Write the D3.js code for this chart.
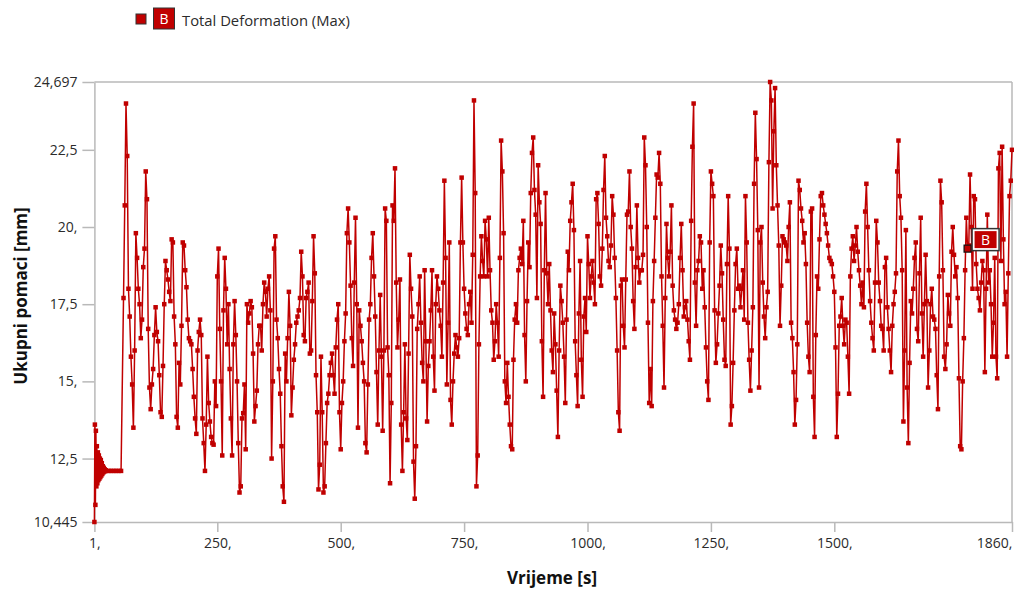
<!DOCTYPE html>
<html>
<head>
<meta charset="utf-8">
<script src="https://cdn.jsdelivr.net/npm/d3@7"></script>
<style>
  html, body { margin: 0; padding: 0; background: #ffffff; }
  svg { display: block; }
  text { font-family: "Open Sans", "Noto Sans", sans-serif; }
</style>
</head>
<body>
<svg id="chart" width="1014" height="590"></svg>
<script>
// ---------- data ----------
const seriesName = "Total Deformation (Max)";
const seriesTag = "B";
const xTickValues = [1, 250, 500, 750, 1000, 1250, 1500, 1860];
const xTickLabels = ["1,", "250,", "500,", "750,", "1000,", "1250,", "1500,", "1860,"];
const yTickValues = [10.445, 12.5, 15, 17.5, 20, 22.5, 24.697];
const yTickLabels = ["10,445", "12,5", "15,", "17,5", "20,", "22,5", "24,697"];

// start-up phase (time [s], deformation [mm])
const startTimes  = [1,2,3,4,5,6,7,8,9,10,11,12,13,14,15,16,17,18,19,20,21,22,23,24,25,30,35,40,45,50,55];
const startValues = [10.445,13.6,11.0,13.4,11.6,12.9,11.7,12.7,11.8,12.6,11.85,12.5,11.9,12.45,11.95,12.35,12.0,12.25,12.05,12.2,12.08,12.15,12.1,12.12,12.1,12.1,12.1,12.1,12.1,12.1,12.1];

// main phase: one sample every 2.5 s from t = 60 s to t = 1860 s
const mainStart = 60, mainStep = 2.5;
const mainValues = [
17.7,20.7,24.0,22.3,18.0,17.1,15.8,14.9,13.5,16.0,19.8,19.0,18.0,17.5,16.4,17.0,18.7,19.3,21.8,20.9,
16.7,14.8,14.1,14.9,15.4,16.5,17.4,16.6,16.3,15.2,14.0,13.85,15.5,17.5,18.9,18.6,18.3,17.9,17.6,19.6,
19.5,17.1,16.2,13.85,13.5,15.6,14.9,16.8,19.5,19.4,18.6,18.05,17.0,16.4,16.3,16.2,15.4,14.5,13.8,13.3,
16.0,16.6,17.0,16.5,13.8,13.0,12.1,13.6,15.8,14.3,13.7,13.2,13.0,12.95,15.0,14.2,18.4,19.3,16.7,15.0,
12.6,17.3,19.0,18.0,16.2,17.5,15.4,13.8,12.6,16.2,17.6,16.5,15.0,13.0,11.4,11.6,13.8,13.97,14.9,12.8,
17.5,16.9,17.2,17.6,17.4,15.9,13.7,14.2,14.7,16.2,16.8,16.8,16.0,17.5,18.2,17.9,17.1,18.0,18.4,17.3,
12.5,15.0,19.3,19.7,17.0,16.4,15.4,14.6,12.9,11.6,11.1,15.9,15.0,16.4,17.9,16.8,13.9,14.8,15.7,16.2,
16.9,17.1,17.3,17.7,19.2,18.4,16.5,16.3,17.7,17.9,18.2,15.9,16.0,17.6,19.7,18.5,15.2,14.0,11.5,12.3,
15.8,14.0,11.4,11.6,13.0,14.3,14.6,15.2,15.6,15.9,15.2,14.6,16.1,17.0,17.5,14.0,12.8,14.3,15.0,16.3,
17.2,19.8,20.6,19.5,18.1,16.4,15.5,18.2,20.3,17.5,13.5,17.3,16.8,16.3,15.6,15.0,13.0,12.7,14.9,17.0,
17.5,19.0,19.8,18.4,17.1,15.3,13.6,16.0,17.8,15.8,13.4,16.0,20.6,20.2,16.1,15.2,11.7,14.3,20.7,20.2,
21.9,18.2,16.1,17.0,18.3,13.6,12.1,14.0,16.2,13.8,13.1,15.9,19.1,18.0,17.1,12.4,11.2,12.9,16.7,17.5,
18.4,16.9,15.6,15.0,18.6,16.3,13.7,15.5,16.3,17.3,18.6,15.8,14.7,17.5,18.4,18.0,17.3,16.8,15.8,18.2,
21.5,19.0,14.9,16.9,19.5,14.4,13.6,15.0,15.9,16.5,16.1,15.8,16.4,19.5,21.6,19.5,18.0,17.2,16.7,16.5,
17.5,17.9,16.9,19.1,24.1,21.1,11.6,12.6,16.2,18.4,19.7,18.9,18.4,20.2,19.6,18.4,20.3,18.6,17.3,16.9,
15.7,16.3,17.5,16.9,15.8,19.0,22.8,21.8,19.8,15.0,14.3,15.6,14.5,13.6,12.9,12.8,15.7,17.0,17.5,16.9,
18.6,19.0,19.3,18.8,20.2,16.5,15.0,17.6,19.5,18.7,21.1,22.4,22.9,21.2,20.4,17.7,22.0,20.8,20.1,16.3,
14.5,18.6,21.1,18.5,17.5,18.8,17.3,16.0,15.3,17.2,16.2,14.7,13.2,16.0,18.1,17.6,16.9,15.8,14.3,17.0,
19.2,18.6,20.2,20.8,21.4,19.9,16.3,15.2,14.2,17.2,18.9,15.7,14.5,17.1,17.7,16.6,19.7,18.8,17.7,18.4,
18.9,18.2,17.5,20.9,21.1,20.1,18.4,18.1,19.3,21.2,22.3,20.3,19.7,18.9,18.7,19.4,21.0,20.4,19.0,17.7,
16.0,14.0,13.4,18.1,18.3,16.8,16.1,18.3,20.4,20.5,21.8,20.0,19.3,17.6,16.7,18.7,20.7,19.0,18.2,18.6,
18.6,19.1,22.9,22.0,20.0,16.9,14.3,15.4,14.2,17.6,18.9,20.3,21.7,21.6,22.4,21.4,18.4,16.8,14.8,17.7,
20.1,19.0,18.4,19.2,20.7,18.1,17.3,17.0,16.7,16.9,17.5,19.0,20.1,18.6,17.1,17.4,17.6,17.0,16.3,15.7,
20.2,22.6,24.0,18.2,16.8,18.6,18.9,19.7,19.5,18.0,18.6,17.4,16.1,15.0,14.4,19.5,21.8,21.4,21.0,17.3,
15.6,16.2,17.2,18.1,19.4,18.5,17.0,15.7,15.5,18.8,21.0,19.3,13.6,14.2,15.6,17.3,18.8,19.3,18.0,18.1,
17.4,18.0,18.6,17.0,21.0,19.5,16.9,15.7,14.7,16.0,17.4,21.4,23.7,22.2,19.9,14.8,19.5,20.0,18.2,17.1,
16.4,17.4,17.9,22.1,24.697,24.1,20.6,23.1,24.5,22.0,20.7,19.4,16.8,18.1,19.7,19.6,19.5,19.4,18.9,20.0,
20.8,16.9,16.4,15.3,13.6,14.4,16.2,21.5,21.2,20.6,20.2,19.5,19.8,18.8,16.9,15.8,15.3,20.5,20.6,14.5,
13.2,16.5,18.4,18.0,19.6,21.0,21.1,20.7,20.4,20.1,19.8,19.4,19.0,18.9,18.8,18.4,17.9,16.1,13.2,14.6,
16.8,17.1,17.7,16.8,16.2,17.0,16.9,15.8,14.6,18.4,19.3,19.7,18.9,19.4,20.0,19.2,18.6,18.1,17.5,18.2,
17.4,20.5,21.4,20.0,18.6,17.6,16.9,16.4,16.0,18.2,20.2,19.5,18.2,17.6,16.8,16.7,16.0,18.7,19.0,17.4,
16.7,16.0,15.3,16.8,17.5,17.9,18.5,21.8,22.8,21.0,20.3,18.6,13.7,16.0,19.9,14.8,13.0,15.6,17.6,17.2,
18.0,19.0,19.5,16.7,16.3,18.5,20.3,17.2,15.8,17.5,19.1,17.6,14.8,16.0,17.5,18.0,17.1,17.0,16.7,15.2,
14.1,18.4,21.5,20.8,18.6,15.8,15.4,16.2,17.8,17.2,16.8,19.2,20.0,19.1,18.4,18.7,17.7,15.1,12.9,12.8,
15.0,16.4,18.6,20.3,19.3,19.4,21.7,20.0,18.0,21.0,20.9,18.8,18.0,17.7,17.3,18.2,18.9,18.6,15.3,18.0,
20.4,18.2,18.6,17.5,15.8,16.9,19.0,15.8,15.1,21.9,22.4,18.9,22.6,19.6,17.5,17.9,15.8,18.5,21.0,21.5,
22.5
];
const annotationIndex = 684; // main-phase sample carrying the "B" probe label

// ---------- build points ----------
const points = startTimes.map((t, i) => ({ t, v: startValues[i] }))
  .concat(mainValues.map((v, i) => ({ t: mainStart + i * mainStep, v })));

// ---------- layout ----------
const plot = { left: 94.4, right: 1012, top: 82, bottom: 522 };
const red = "#c00000";
const axisCol = "#b9b9b9";
const textCol = "#2b2b2b";

const svg = d3.select("#chart");

const x = d3.scaleLinear().domain([1, 1860]).range([plot.left, plot.right]);
const y = d3.scaleLinear().domain([10.445, 24.697]).range([plot.bottom, plot.top]);

// frame
const frame = svg.append("g");
frame.append("line").attr("x1", plot.left).attr("x2", plot.right).attr("y1", plot.top).attr("y2", plot.top)
  .attr("stroke", axisCol).attr("stroke-width", 1.5);
frame.append("line").attr("x1", plot.right).attr("x2", plot.right).attr("y1", plot.top).attr("y2", plot.bottom)
  .attr("stroke", axisCol).attr("stroke-width", 1.5);

// axes
const xAxis = d3.axisBottom(x).tickValues(xTickValues)
  .tickFormat((d, i) => xTickLabels[i]).tickSizeInner(10).tickSizeOuter(0).tickPadding(6);
const gx = svg.append("g").attr("transform", `translate(0,${plot.bottom})`).call(xAxis);

const yAxis = d3.axisLeft(y).tickValues(yTickValues)
  .tickFormat((d, i) => yTickLabels[i]).tickSizeInner(12).tickSizeOuter(0).tickPadding(5);
const gy = svg.append("g").attr("transform", `translate(${plot.left},0)`).call(yAxis);

[gx, gy].forEach(g => {
  g.select(".domain").attr("stroke", axisCol).attr("stroke-width", 1.5);
  g.selectAll(".tick line").attr("stroke", axisCol).attr("stroke-width", 1.5);
  g.selectAll(".tick text").attr("fill", textCol).style("font-size", "14px")
    .style("font-family", "'Open Sans', sans-serif");
});
// last x label kept inside the picture
gx.selectAll(".tick").filter(d => d === 1860).select("text").attr("text-anchor", "end").attr("dx", "0");

// axis titles
svg.append("text").attr("x", 552).attr("y", 584).attr("text-anchor", "middle")
  .attr("fill", "#111").style("font-size", "17px").style("font-weight", "bold")
  .text("Vrijeme [s]");
svg.append("text").attr("transform", `translate(27,${(plot.top + plot.bottom) / 2 - 6}) rotate(-90)`)
  .attr("text-anchor", "middle").attr("fill", "#111").style("font-size", "17px").style("font-weight", "bold")
  .text("Ukupni pomaci [mm]");

// series line
const line = d3.line().x(d => x(d.t)).y(d => y(d.v));
svg.append("path").datum(points).attr("d", line)
  .attr("fill", "none").attr("stroke", red).attr("stroke-width", 1.5).attr("stroke-linejoin", "round");

// markers
const ms = 4.5;
svg.append("g").selectAll("rect").data(points).join("rect")
  .attr("x", d => x(d.t) - ms / 2).attr("y", d => y(d.v) - ms / 2)
  .attr("width", ms).attr("height", ms).attr("fill", red);

// probe annotation "B"
const ap = { t: mainStart + annotationIndex * mainStep, v: mainValues[annotationIndex] };
const ax = x(ap.t), ay = y(ap.v);
svg.append("rect").attr("x", ax - 3.5).attr("y", ay - 3.5).attr("width", 7).attr("height", 7)
  .attr("fill", red).attr("stroke", "#111").attr("stroke-width", 1.2);
const bx = ax + 4.5, by = ay - 20;
svg.append("rect").attr("x", bx).attr("y", by).attr("width", 27).attr("height", 22)
  .attr("fill", "#ffffff").attr("stroke", "#333").attr("stroke-width", 1.5);
svg.append("rect").attr("x", bx + 2.5).attr("y", by + 2.5).attr("width", 22).attr("height", 17)
  .attr("fill", red);
svg.append("text").attr("x", bx + 13.5).attr("y", by + 16.5).attr("text-anchor", "middle")
  .attr("fill", "#ffffff").style("font-size", "14px").text(seriesTag);

// legend
const lg = svg.append("g");
lg.append("rect").attr("x", 136).attr("y", 14).attr("width", 10).attr("height", 10)
  .attr("fill", red).attr("stroke", "#333").attr("stroke-width", 1);
lg.append("rect").attr("x", 153.5).attr("y", 8).attr("width", 21).attr("height", 21)
  .attr("fill", red).attr("stroke", "#333").attr("stroke-width", 1);
lg.append("text").attr("x", 164).attr("y", 24).attr("text-anchor", "middle")
  .attr("fill", "#ffffff").style("font-size", "14px").text(seriesTag);
lg.append("text").attr("x", 182).attr("y", 26).attr("fill", textCol)
  .style("font-size", "14.8px").text(seriesName);
</script>
</body>
</html>
